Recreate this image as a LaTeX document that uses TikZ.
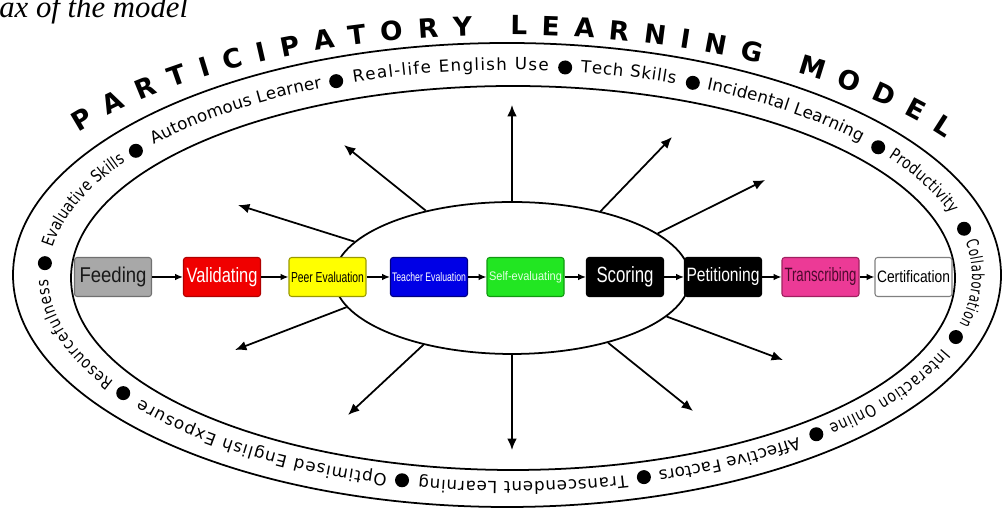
\documentclass[tikz,border=0pt]{standalone}
\usepackage{fontspec}
\usepackage{graphicx}
\setmainfont{Liberation Serif}
\newfontfamily\bandfam{DejaVu Sans}
\newfontfamily\bandnarrowfam[FakeStretch=0.82]{DejaVu Sans}
\newfontfamily\bandtightfam[FakeStretch=0.7]{DejaVu Sans}
\newfontfamily\titlefam{DejaVu Sans}
\newfontfamily\stagefam{Liberation Sans}
\usetikzlibrary{arrows.meta,decorations.text,shapes.geometric}

\newcommand{\bandfont}{\bandfam\fontsize{9.5}{11}\selectfont}
\newcommand{\bandnarrow}{\bandnarrowfam\fontsize{9.5}{11}\selectfont}
\newcommand{\bandtight}{\bandtightfam\fontsize{9.5}{11}\selectfont}
\newcommand{\titlefont}{\titlefam\bfseries\fontsize{15}{17}\selectfont}

\definecolor{feedgray}{HTML}{A8A8A8}
\definecolor{feedline}{HTML}{707070}
\definecolor{validred}{HTML}{F00000}
\definecolor{validline}{HTML}{B00000}
\definecolor{peeryellow}{HTML}{FFFF00}
\definecolor{peerline}{HTML}{9A9A00}
\definecolor{teachblue}{HTML}{0000E6}
\definecolor{teachline}{HTML}{000080}
\definecolor{selfgreen}{HTML}{22E622}
\definecolor{selfline}{HTML}{119911}
\definecolor{selftext}{HTML}{E2FFE2}
\definecolor{transpink}{HTML}{EC3A96}
\definecolor{transline}{HTML}{A02060}
\definecolor{transtext}{HTML}{4D0A2E}
\definecolor{certline}{HTML}{808080}

\begin{document}
\begin{tikzpicture}[x=0.02cm, y=0.02cm,
    >={Latex[length=6.5pt,width=5.5pt]},
    stage/.style={draw, rounded corners=1.5pt, line width=0.6pt,
        minimum width=1.54cm, minimum height=0.78cm, inner sep=0pt},
    link/.style={->, line width=0.8pt, >={Latex[length=4.5pt,width=3.8pt]}},
    ray/.style={->, line width=1pt},
    ring/.style={line width=1pt}]

    \useasboundingbox (0,0) rectangle (1003,509);

    % Caption, cut off at the top
    \node[anchor=base west, inner sep=0pt, font=\itshape\fontsize{17.5}{20}\selectfont]
        (caption) at (-1,491) {ax of the model};

    % Rings
    \draw[ring] (507,234) ellipse[x radius=494, y radius=232];
    \draw[ring] (513,231) ellipse[x radius=442, y radius=192];

    % Title
    \path[decorate, decoration={text along path, text align={fit to path},
        text={|\titlefont|PARTICIPATORY LEARNING MODEL}}]
        (507,250) ++(145.5:520 and 224) arc[start angle=145.5, end angle=32.5, x radius=520, y radius=224];

    % Ring labels
    \foreach \sa/\ea/\fnt/\txt in {
        210.9/180.9/\bandnarrow/Resourcefulness,
        172.1/146.3/\bandnarrow/Evaluative Skills,
        140.5/114/\bandfont/Autonomous Learner,
        109.8/85.2/\bandfont/Real-life English Use,
        81.2/69/\bandfont/Tech Skills,
        64.8/40.6/\bandfont/Incidental Learning,
        35/17.5/\bandnarrow/Productivity,
        9.5/-13.5/\bandtight/Collaboration,
        -20.7/-46.4/\bandnarrow/Interaction Online,
        -51.4/-71.3/\bandfont/Affective Factors,
        -75.3/-101.4/\bandfont/Transcendent Learning,
        -105.4/-143.1/\bandfont/Optimised English Exposure}
        \path[decorate, decoration={text along path, text align={fit to path},
            text/.expanded={|\noexpand\fnt|\txt}}]
            (510,233) ++(\sa:462 and 206) arc[start angle=\sa, end angle=\ea, x radius=462, y radius=206];

    % Bullets
    \foreach \ang in {213.9,176.5,143.4,111.9,83.2,66.9,37.8,13,-16.9,-48.9,-73.3,-103.4}
        \fill (510,233) ++(\ang:466 and 210) circle[radius=7];

    % Hub
    \node[draw, ellipse, line width=1pt, minimum width=7.12cm, minimum height=3.04cm,
        inner sep=0pt] (hub) at (512,231) {};

    % Rays
    \foreach \dir/\tx/\ty [count=\k] in {167/238/304, 142.5/344/364, 90/512/404,
        37.7/672/372, 17.3/765/329, 190/235/159, 217.6/348/94, 270/512/59,
        326.4/693/98, 346/783/149} {
        \coordinate (tip\k) at (\tx,\ty);
        \draw[ray] (hub.\dir) -- (tip\k);
    }

    % Stages
    \foreach \name/\xc/\w/\h/\fc/\dc/\tc/\txt in {
        feed/113/1.34/0.31/feedgray/feedline/black!90/Feeding,
        valid/222/1.42/0.30/validred/validline/white/Validating,
        peer/327.5/1.46/0.21/peeryellow/peerline/black/Peer Evaluation,
        teach/429/1.48/0.18/teachblue/teachline/white/Teacher Evaluation,
        self/525.5/1.46/0.18/selfgreen/selfline/selftext/Self-evaluating,
        score/625/1.14/0.32/black/black/white/Scoring,
        petit/723/1.46/0.28/black/black/white/Petitioning,
        trans/820.5/1.44/0.28/transpink/transline/transtext/Transcribing,
        cert/913.5/1.46/0.24/white/certline/black/Certification}
        \node[stage, fill=\fc, draw=\dc, text=\tc] (\name) at (\xc,232)
            {\resizebox{\w cm}{\h cm}{\stagefam \txt}};

    \foreach \u/\v in {feed/valid, valid/peer, peer/teach, teach/self,
        self/score, score/petit, petit/trans, trans/cert}
        \draw[link] (\u) -- (\v);

\end{tikzpicture}
\end{document}
